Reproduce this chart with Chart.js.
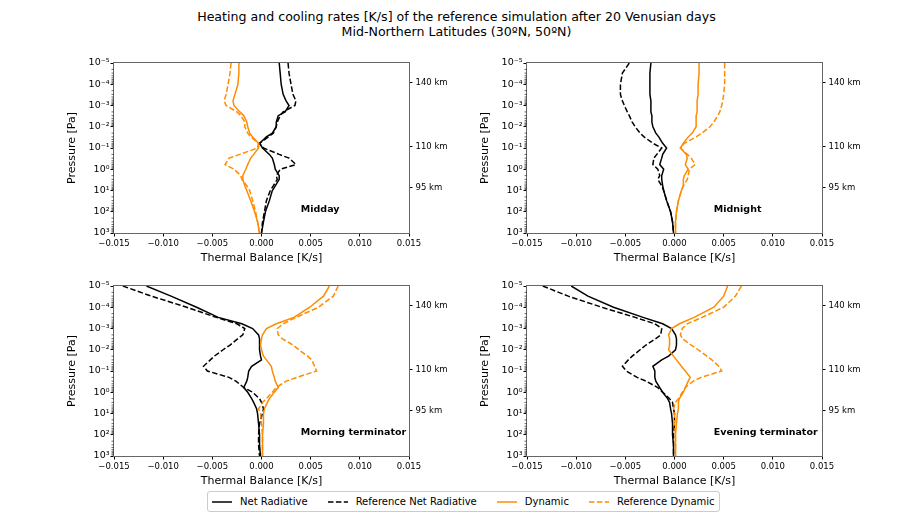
<!DOCTYPE html>
<html>
<head>
<meta charset="utf-8">
<script src="https://cdn.jsdelivr.net/npm/chart.js@4.4.1/dist/chart.umd.min.js"></script>
<style>
  body { margin: 0; background: #fff; font-family: "DejaVu Sans", sans-serif; }
  #fig { position: relative; width: 913px; height: 522px; overflow: hidden; background: #fff; }
  .title { position: absolute; left: 0; width: 913px; text-align: center; font-size: 12.6px; color: #000; line-height: 15px; }
  canvas { position: absolute; }
  #legend { position: absolute; left: 207px; top: 491px; height: 19px; border: 1px solid #ccc; border-radius: 3px;
            display: flex; align-items: center; gap: 20px; padding: 0 4px; font-size: 10px; color: #000; background: #fff; }
  #legend .item { display: flex; align-items: center; gap: 8px; white-space: nowrap; }
</style>
</head>
<body>
<div id="fig">
  <div class="title" style="top:9px">Heating and cooling rates [K/s] of the reference simulation after 20 Venusian days</div>
  <div class="title" style="top:24px">Mid-Northern Latitudes (30ºN, 50ºN)</div>
  <canvas id="p0" width="400" height="218" style="left:60px;top:50px"></canvas>
  <canvas id="p1" width="400" height="218" style="left:473px;top:50px"></canvas>
  <canvas id="p2" width="400" height="218" style="left:60px;top:273px"></canvas>
  <canvas id="p3" width="400" height="218" style="left:473px;top:273px"></canvas>
  <div id="legend"></div>
</div>
<script>
// pressure levels [Pa] shared by all profiles
const pressure = [1e-5, 3e-5, 1e-4, 3e-4, 6e-4, 1e-3, 2e-3, 3e-3, 6e-3, 1e-2, 2e-2, 3e-2, 6e-2,
                  0.1, 0.2, 0.3, 0.6, 1, 2, 3, 6, 10, 30, 100, 300, 1000];

// Midday
const middayNet    = [0.0018, 0.0019, 0.0020, 0.0022, 0.0025, 0.0028, 0.0024, 0.0017, 0.0015, 0.0015, 0.0011, 0.0005, -0.0002,
                      0.0001, 0.0008, 0.0011, 0.0013, 0.0014, 0.0018, 0.0018, 0.0014, 0.0011, 0.0008, 0.0004, 0.0002, 0.0000];
const middayNetRef = [0.0027, 0.0028, 0.0030, 0.0032, 0.0035, 0.0034, 0.0022, 0.0019, 0.0016, 0.0015, 0.0012, 0.0007, -0.0002,
                      0.0002, 0.0018, 0.0028, 0.0035, 0.0019, 0.0015, 0.0016, 0.0012, 0.0009, 0.0005, 0.0003, 0.0001, 0.0000];
const middayDyn    = [-0.0023, -0.0023, -0.0024, -0.0027, -0.0029, -0.0028, -0.0022, -0.0018, -0.0015, -0.0014, -0.0012, -0.0009, -0.0003,
                      -0.0003, -0.0008, -0.0011, -0.0014, -0.0016, -0.0019, -0.0019, -0.0017, -0.0015, -0.0011, -0.0007, -0.0004, -0.0002];
const middayDynRef = [-0.0031, -0.0032, -0.0034, -0.0036, -0.0038, -0.0036, -0.0025, -0.0021, -0.0017, -0.0017, -0.0014, -0.0011, -0.0003,
                      -0.0004, -0.0022, -0.0033, -0.0037, -0.0028, -0.0021, -0.0020, -0.0015, -0.0012, -0.0009, -0.0006, -0.0004, -0.0002];

// Midnight
const midnightNet    = [-0.0024, -0.0025, -0.0025, -0.0025, -0.0024, -0.0024, -0.0024, -0.0023, -0.0023, -0.0022, -0.0019, -0.0016, -0.0012,
                        -0.0008, -0.0012, -0.0013, -0.0015, -0.0011, -0.0013, -0.0013, -0.0012, -0.0011, -0.0008, -0.0004, -0.0002, -0.0001];
const midnightNetRef = [-0.0046, -0.0053, -0.0055, -0.0055, -0.0053, -0.0051, -0.0048, -0.0046, -0.0043, -0.0040, -0.0035, -0.0031, -0.0022,
                        -0.0013, -0.0018, -0.0021, -0.0022, -0.0017, -0.0015, -0.0017, -0.0013, -0.0011, -0.0008, -0.0004, -0.0002, -0.0001];
const midnightDyn    = [0.0025, 0.0025, 0.0024, 0.0024, 0.0023, 0.0023, 0.0023, 0.0022, 0.0022, 0.0022, 0.0018, 0.0014, 0.0009,
                        0.0006, 0.0012, 0.0013, 0.0011, 0.0014, 0.0010, 0.0009, 0.0009, 0.0007, 0.0004, 0.0002, 0.0001, 0.0001];
const midnightDynRef = [0.0051, 0.0051, 0.0051, 0.0050, 0.0049, 0.0048, 0.0046, 0.0044, 0.0040, 0.0036, 0.0028, 0.0022, 0.0010,
                        0.0006, 0.0013, 0.0017, 0.0021, 0.0015, 0.0014, 0.0013, 0.0009, 0.0007, 0.0004, 0.0002, 0.0001, 0.0001];

// Morning terminator
const morningNet    = [-0.0117, -0.0092, -0.0066, -0.0044, -0.0020, -0.0009, -0.0003, -0.0002, -0.0002, -0.0002, -0.0001, 0.0000, -0.0010,
                       -0.0013, -0.0014, -0.0015, -0.0018, -0.0014, -0.0010, -0.0008, -0.0005, -0.0004, -0.0003, -0.0002, -0.0002, -0.0001];
const morningNetRef = [-0.0141, -0.0112, -0.0076, -0.0046, -0.0025, -0.0017, -0.0019, -0.0024, -0.0032, -0.0039, -0.0048, -0.0052, -0.0059,
                       -0.0055, -0.0033, -0.0026, -0.0018, -0.0009, -0.0002, 0.0000, 0.0002, 0.0001, -0.0002, -0.0003, -0.0003, -0.0002];
const morningDyn    = [0.0069, 0.0063, 0.0049, 0.0033, 0.0015, 0.0005, 0.0001, 0.0000, -0.0001, 0.0000, 0.0002, 0.0005, 0.0010,
                       0.0011, 0.0013, 0.0014, 0.0017, 0.0013, 0.0008, 0.0006, 0.0003, 0.0002, 0.0002, 0.0001, 0.0001, 0.0001];
const morningDynRef = [0.0078, 0.0073, 0.0058, 0.0035, 0.0022, 0.0016, 0.0017, 0.0021, 0.0032, 0.0038, 0.0047, 0.0051, 0.0054,
                       0.0056, 0.0036, 0.0025, 0.0015, 0.0011, 0.0005, 0.0001, -0.0003, -0.0001, 0.0000, 0.0001, 0.0001, 0.0001];

// Evening terminator
const eveningNet    = [-0.0105, -0.0088, -0.0062, -0.0032, -0.0012, -0.0003, 0.0001, 0.0002, 0.0002, 0.0001, -0.0006, -0.0013, -0.0022,
                       -0.0020, -0.0020, -0.0019, -0.0015, -0.0012, -0.0007, -0.0005, -0.0004, -0.0003, -0.0002, -0.0002, -0.0001, -0.0001];
const eveningNetRef = [-0.0134, -0.0108, -0.0074, -0.0040, -0.0020, -0.0013, -0.0014, -0.0019, -0.0029, -0.0035, -0.0043, -0.0047, -0.0053,
                       -0.0049, -0.0038, -0.0029, -0.0017, -0.0012, -0.0005, -0.0002, -0.0001, 0.0000, 0.0000, -0.0001, -0.0001, -0.0001];
const eveningDyn    = [0.0054, 0.0050, 0.0040, 0.0020, 0.0005, -0.0003, -0.0006, -0.0005, -0.0005, -0.0006, -0.0001, 0.0002, 0.0007,
                       0.0011, 0.0016, 0.0014, 0.0011, 0.0009, 0.0005, 0.0004, 0.0004, 0.0003, 0.0002, 0.0001, 0.0001, 0.0001];
const eveningDynRef = [0.0068, 0.0062, 0.0050, 0.0028, 0.0013, 0.0008, 0.0006, 0.0008, 0.0017, 0.0024, 0.0033, 0.0038, 0.0045,
                       0.0048, 0.0027, 0.0019, 0.0011, 0.0008, 0.0004, 0.0001, -0.0001, 0.0000, 0.0000, 0.0001, 0.0001, 0.0001];

const seriesNames = ['Net Radiative', 'Reference Net Radiative', 'Dynamic', 'Reference Dynamic'];
const panelNames = ['Midday', 'Midnight', 'Morning terminator', 'Evening terminator'];
const yTickValues = [1e-5, 1e-4, 1e-3, 1e-2, 1e-1, 1, 10, 100, 1000];
const yTickLabels = ['10⁻⁵', '10⁻⁴', '10⁻³', '10⁻²', '10⁻¹', '10⁰', '10¹', '10²', '10³'];
const kmValues = [8.5e-5, 0.087, 7.4];
const kmLabels = ['140 km', '110 km', '95 km'];

const ORANGE = '#ff8c00';
const DASH = [5.5, 2.4];
const styles = [
    { color: '#000', dash: [] },
    { color: '#000', dash: DASH },
    { color: ORANGE, dash: [] },
    { color: ORANGE, dash: DASH }
];

const tickFont = { family: 'DejaVu Sans', size: 8.5 };
const yTickFont = { family: 'DejaVu Sans', size: 9.5 };
const titleFont = { family: 'DejaVu Sans', size: 11 };

function labelFor(value, values, labels) {
    const i = values.findIndex(v => Math.abs(Math.log10(v) - Math.log10(value)) < 1e-6);
    return i >= 0 ? labels[i] : '';
}

// box around the plot area (matplotlib spines) + minor log ticks on the left
const framePlugin = {
    id: 'frame',
    afterDraw(chart) {
        const { ctx, chartArea: a, scales } = chart;
        ctx.save();
        ctx.strokeStyle = '#666';
        ctx.lineWidth = 1;
        ctx.strokeRect(a.left - 0.5, a.top - 0.5, a.right - a.left + 1, a.bottom - a.top + 1);
        ctx.strokeStyle = '#000';
        ctx.lineWidth = 0.6;
        ctx.beginPath();
        for (let i = 0; i < yTickValues.length - 1; i++) {
            for (let m = 2; m <= 9; m++) {
                const py = scales.y.getPixelForValue(m * yTickValues[i]);
                ctx.moveTo(a.left - 0.5, py);
                ctx.lineTo(a.left - 2.5, py);
            }
        }
        ctx.stroke();
        ctx.restore();
    }
};

// bold panel name inside the axes
function namePlugin(text) {
    return {
        id: 'panelName',
        afterDatasetsDraw(chart) {
            const { ctx, scales } = chart;
            ctx.save();
            ctx.font = 'bold 9.5px "DejaVu Sans"';
            ctx.fillStyle = '#000';
            ctx.textAlign = 'left';
            ctx.textBaseline = 'middle';
            ctx.fillText(text, scales.x.getPixelForValue(0.004), scales.y.getPixelForValue(75));
            ctx.restore();
        }
    };
}

function makePanel(id, name, net, netRef, dyn, dynRef) {
    const series = [net, netRef, dyn, dynRef];
    new Chart(document.getElementById(id), {
        type: 'scatter',
        data: {
            datasets: series.map((vals, i) => ({
                label: seriesNames[i],
                data: vals.map((v, k) => ({ x: v, y: pressure[k] })),
                showLine: true,
                borderColor: styles[i].color,
                backgroundColor: styles[i].color,
                borderWidth: 1.5,
                borderDash: styles[i].dash,
                pointRadius: 0,
                tension: 0,
                order: 4 - i,
                yAxisID: 'y'
            }))
        },
        options: {
            responsive: false,
            animation: false,
            events: [],
            layout: { padding: { top: 13, left: 0, right: 0, bottom: 0 } },
            plugins: { legend: { display: false }, tooltip: { enabled: false } },
            scales: {
                x: {
                    type: 'linear',
                    min: -0.015, max: 0.015,
                    afterFit: s => { s.height = 35; },
                    border: { display: false },
                    grid: { drawOnChartArea: false, drawTicks: true, tickLength: 3.5, tickColor: '#000' },
                    ticks: {
                        stepSize: 0.005, font: tickFont, color: '#000', padding: 2, maxRotation: 0,
                        callback: v => (Math.abs(v) < 1e-9 ? '0.000' : (v < 0 ? '−' : '') + Math.abs(v).toFixed(3))
                    },
                    title: { display: true, text: 'Thermal Balance [K/s]', font: titleFont, color: '#000', padding: { top: 0, bottom: 3 } }
                },
                y: {
                    type: 'logarithmic',
                    position: 'left',
                    reverse: true,
                    min: 1e-5, max: 1e3,
                    afterFit: s => { s.width = 54; },
                    afterBuildTicks: s => { s.ticks = yTickValues.map(v => ({ value: v, major: true })); },
                    border: { display: false },
                    grid: { drawOnChartArea: false, drawTicks: true, tickLength: 3.5, tickColor: '#000' },
                    ticks: {
                        autoSkip: false, font: yTickFont, color: '#000', padding: 1,
                        callback: v => labelFor(v, yTickValues, yTickLabels)
                    },
                    title: { display: true, text: 'Pressure [Pa]', font: titleFont, color: '#000', padding: { top: 6, bottom: 0 } }
                },
                y2: {
                    type: 'logarithmic',
                    position: 'right',
                    reverse: true,
                    min: 1e-5, max: 1e3,
                    afterFit: s => { s.width = 51; },
                    afterBuildTicks: s => { s.ticks = kmValues.map(v => ({ value: v })); },
                    border: { display: false },
                    grid: { drawOnChartArea: false, drawTicks: true, tickLength: 3.5, tickColor: '#000' },
                    ticks: {
                        autoSkip: false, font: tickFont, color: '#000', padding: 3,
                        callback: v => labelFor(v, kmValues, kmLabels)
                    }
                }
            }
        },
        plugins: [framePlugin, namePlugin(name)]
    });
}

makePanel('p0', panelNames[0], middayNet, middayNetRef, middayDyn, middayDynRef);
makePanel('p1', panelNames[1], midnightNet, midnightNetRef, midnightDyn, midnightDynRef);
makePanel('p2', panelNames[2], morningNet, morningNetRef, morningDyn, morningDynRef);
makePanel('p3', panelNames[3], eveningNet, eveningNetRef, eveningDyn, eveningDynRef);

// shared legend below the panels
const legend = document.getElementById('legend');
seriesNames.forEach((name, i) => {
    const item = document.createElement('div');
    item.className = 'item';
    const dash = styles[i].dash.length ? ` stroke-dasharray="${styles[i].dash.join(' ')}"` : '';
    item.innerHTML = `<svg width="20" height="8"><line x1="0" y1="4" x2="20" y2="4" stroke="${styles[i].color}" stroke-width="1.5"${dash}/></svg><span>${name}</span>`;
    legend.appendChild(item);
});
</script>
</body>
</html>
